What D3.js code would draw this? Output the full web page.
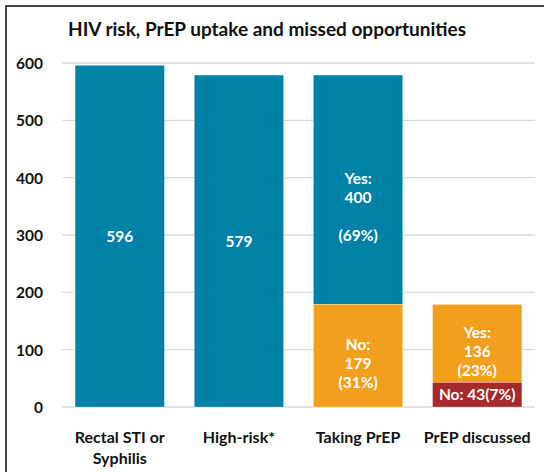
<!DOCTYPE html>
<html>
<head>
<meta charset="utf-8">
<script src="https://cdn.jsdelivr.net/npm/d3@7"></script>
<style>
  html, body { margin: 0; padding: 0; background: #fff; }
  svg { display: block; }
  text { font-family: Lato, "Open Sans", sans-serif; font-weight: bold; }
</style>
</head>
<body>
<svg id="chart" width="544" height="472"></svg>
<script>
// ---- data ----
const categories = ["Rectal STI or\nSyphilis", "High-risk*", "Taking PrEP", "PrEP discussed"];
const totalValues = [596, 579, 579, 179];
const tealSegments = [
  { cat: 0, y0: 0, y1: 596, label: ["596"] },
  { cat: 1, y0: 0, y1: 579, label: ["579"] },
  { cat: 2, y0: 179, y1: 579, label: ["Yes:", "400", "", "(69%)"] }
];
const orangeSegments = [
  { cat: 2, y0: 0, y1: 179, label: ["No:", "179", "(31%)"] },
  { cat: 3, y0: 43, y1: 179, label: ["Yes:", "136", "(23%)"] }
];
const redSegments = [
  { cat: 3, y0: 0, y1: 43, label: ["No: 43(7%)"] }
];
const yTicks = [0, 100, 200, 300, 400, 500, 600];
const chartTitle = "HIV risk, PrEP uptake and missed opportunities";

(function () {
const svg = d3.select("#chart");
const mLeft = 62, mRight = 535, mTop = 63, mBottom = 407;
const colors = { teal: "#0081A7", orange: "#F29F1D", red: "#A62A2B" };

svg.append("rect").attr("x", 6).attr("y", 6).attr("width", 600).attr("height", 600)
  .attr("fill", "#fff").attr("stroke", "#1a1a1a").attr("stroke-width", 1.6);

svg.append("text").attr("x", 267).attr("y", 36).attr("text-anchor", "middle")
  .attr("font-size", 19).attr("fill", "#111").text(chartTitle);

const x = d3.scaleBand().domain(d3.range(categories.length)).range([mLeft, mRight])
  .paddingInner(0.25).paddingOuter(0.11);
const y = d3.scaleLinear().domain([0, 600]).range([mBottom, mTop]);

svg.append("g").selectAll("line").data(yTicks).join("line")
  .attr("x1", mLeft).attr("x2", mRight)
  .attr("y1", d => y(d)).attr("y2", d => y(d))
  .attr("stroke", "#d9d9d9").attr("stroke-width", 1.4);

const yAxis = d3.axisLeft(y).tickValues(yTicks).tickSize(0).tickPadding(0);
const ya = svg.append("g").attr("transform", "translate(43,0)").call(yAxis);
ya.select(".domain").remove();
ya.selectAll("text").attr("font-size", 15.5).attr("fill", "#111")
  .attr("font-family", "Lato, sans-serif").attr("font-weight", "bold").attr("dy", "0.36em");

function drawSegs(data, color) {
  svg.append("g").selectAll("rect").data(data).join("rect")
    .attr("x", d => x(d.cat)).attr("width", x.bandwidth())
    .attr("y", d => y(d.y1)).attr("height", d => y(d.y0) - y(d.y1))
    .attr("fill", color).attr("stroke", "rgba(255,255,255,0.5)").attr("stroke-width", 0.6);
  const g = svg.append("g").selectAll("text").data(data).join("text")
    .attr("text-anchor", "middle").attr("font-size", 15.5).attr("fill", "#fff");
  g.each(function(d) {
    const n = d.label.length;
    const lh = 19;
    const mid = (y(d.y0) + y(d.y1)) / 2;
    const shift = n === 4 ? 17 : (n === 3 ? 8 : 0);
    const first = mid - (n - 1) * lh / 2 + 5.5 + shift;
    const t = d3.select(this);
    d.label.forEach((s, i) => {
      t.append("tspan").attr("x", x(d.cat) + x.bandwidth() / 2).attr("y", first + i * lh).text(s);
    });
  });
}
drawSegs(tealSegments, colors.teal);
drawSegs(orangeSegments, colors.orange);
drawSegs(redSegments, colors.red);

const xl = svg.append("g").selectAll("text").data(categories).join("text")
  .attr("text-anchor", "middle").attr("font-size", 16).attr("fill", "#111");
xl.each(function(d, i) {
  const t = d3.select(this);
  d.split("\n").forEach((s, j) => {
    t.append("tspan").attr("x", x(i) + x.bandwidth() / 2).attr("y", 443 + j * 21).text(s);
  });
});
})();
</script>
</body>
</html>
